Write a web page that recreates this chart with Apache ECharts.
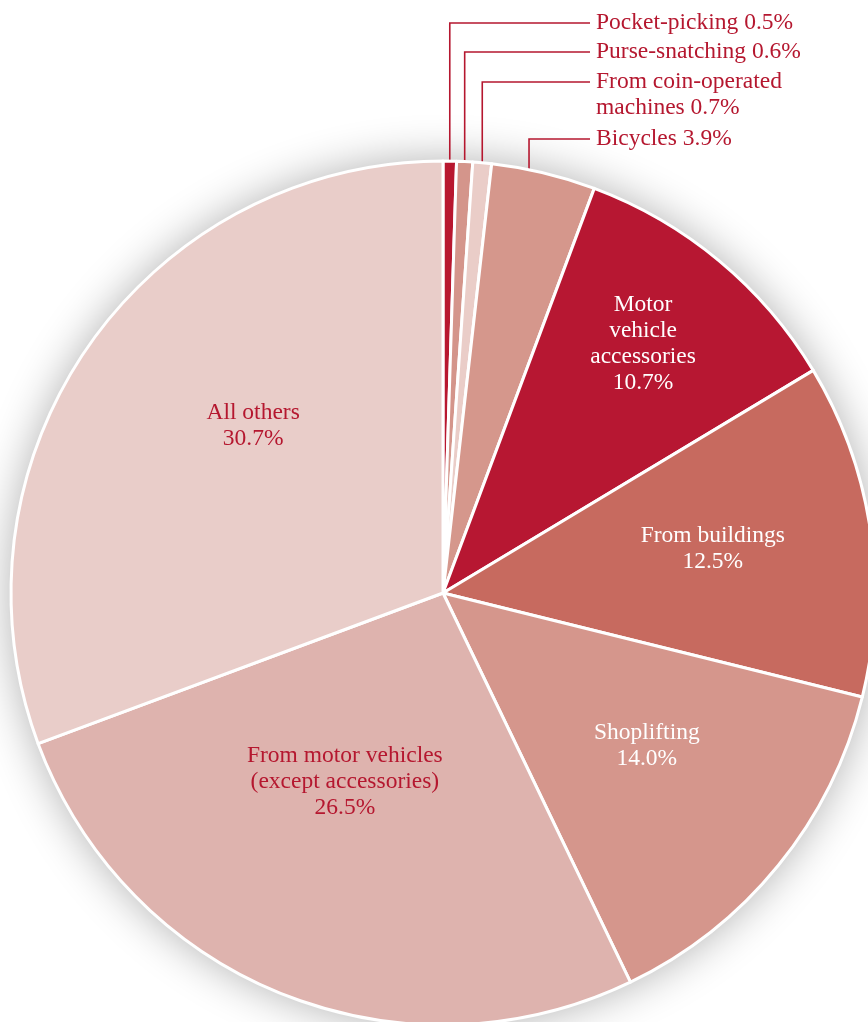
<!DOCTYPE html>
<html><head><meta charset="utf-8">
<script src="https://cdn.jsdelivr.net/npm/echarts@6/dist/echarts.min.js"></script>
<style>html,body{margin:0;padding:0;background:#fff}#c{width:868px;height:1022px}</style>
</head><body><div id="c"></div>
<script>
// ---- data ----
const categories = ['Pocket-picking', 'Purse-snatching', 'From coin-operated\nmachines', 'Bicycles',
  'Motor\nvehicle\naccessories', 'From buildings', 'Shoplifting',
  'From motor vehicles\n(except accessories)', 'All others'];
const values = [0.5, 0.6, 0.7, 3.9, 10.7, 12.5, 14.0, 26.5, 30.7];

// ---- styles ----
const sliceColors = ['#b8172f', '#d4958b', '#eacdc8', '#d5978c', '#b71732', '#c76a5f', '#d5968c', '#deb3ae', '#e9cdc9'];
const labelColors = ['#b5172f', '#b5172f', '#b5172f', '#b5172f', '#ffffff', '#ffffff', '#ffffff', '#b5172f', '#b5172f'];
const outside = [true, true, true, true, false, false, false, false, false];
// inside labels: radial fraction and angle tweak (deg)
const labelFrac = [0, 0, 0, 0, 0.74, 0.633, 0.59, 0.493, 0.585];
const labelAngleShift = [0, 0, 0, -2, -1, -0.8, -2.2, 5.5, 6.5];
// outside labels: first line centre y
const outLabelY = [23, 52, 82, 139];
const outTextX = 596;
const outLineEndX = 590;

const CX = 443, CY = 593, R = 432;
const total = values.reduce((a, b) => a + b, 0);
const midAngle = [];
let cum = 0;
values.forEach(v => { midAngle.push((cum + v / 2) / total * 360); cum += v; });

const FONT = "'Liberation Serif', 'Times New Roman', serif";

const chart = echarts.init(document.getElementById('c'), null, {renderer: 'canvas'});
const data = values.map((v, i) => ({
  name: categories[i],
  value: v,
  itemStyle: {color: sliceColors[i]},
  label: {color: labelColors[i], position: outside[i] ? 'outside' : 'inside'},
  labelLine: {show: outside[i]}
}));

chart.setOption({
  animation: false,
  series: [
    {
      type: 'pie', silent: true, center: [CX, CY], radius: [0, R],
      data: [{value: 1, itemStyle: {color: '#ffffff', shadowBlur: 45, shadowColor: 'rgba(0,0,0,0.32)'}}],
      label: {show: false}, labelLine: {show: false}, z: 1
    },
    {
      type: 'pie', center: [CX, CY], radius: [0, R], startAngle: 90, clockwise: true,
      avoidLabelOverlap: false, z: 2,
      itemStyle: {borderColor: '#ffffff', borderWidth: 3},
      label: {
        show: true, fontFamily: FONT, fontSize: 23.5, lineHeight: 26,
        formatter: p => outside[p.dataIndex]
          ? p.name + ' ' + p.value.toFixed(1) + '%'
          : p.name + '\n' + p.value.toFixed(1) + '%'
      },
      labelLine: {show: true, smooth: false, lineStyle: {color: '#b5172f', width: 1.6}},
      labelLayout: function (p) {
        const i = p.dataIndex;
        const a = (midAngle[i] + labelAngleShift[i]) * Math.PI / 180;
        if (outside[i]) {
          const xa = CX + R * Math.sin(a);
          const ya = CY - R * Math.cos(a);
          return {
            x: outTextX, y: outLabelY[i] - 13, align: 'left', verticalAlign: 'top',
            labelLinePoints: [[xa, ya], [xa, outLabelY[i]], [outLineEndX, outLabelY[i]]]
          };
        }
        return {
          x: CX + labelFrac[i] * R * Math.sin(a),
          y: CY - labelFrac[i] * R * Math.cos(a),
          align: 'center', verticalAlign: 'middle'
        };
      },
      data: data
    }
  ]
});
</script>
</body></html>
